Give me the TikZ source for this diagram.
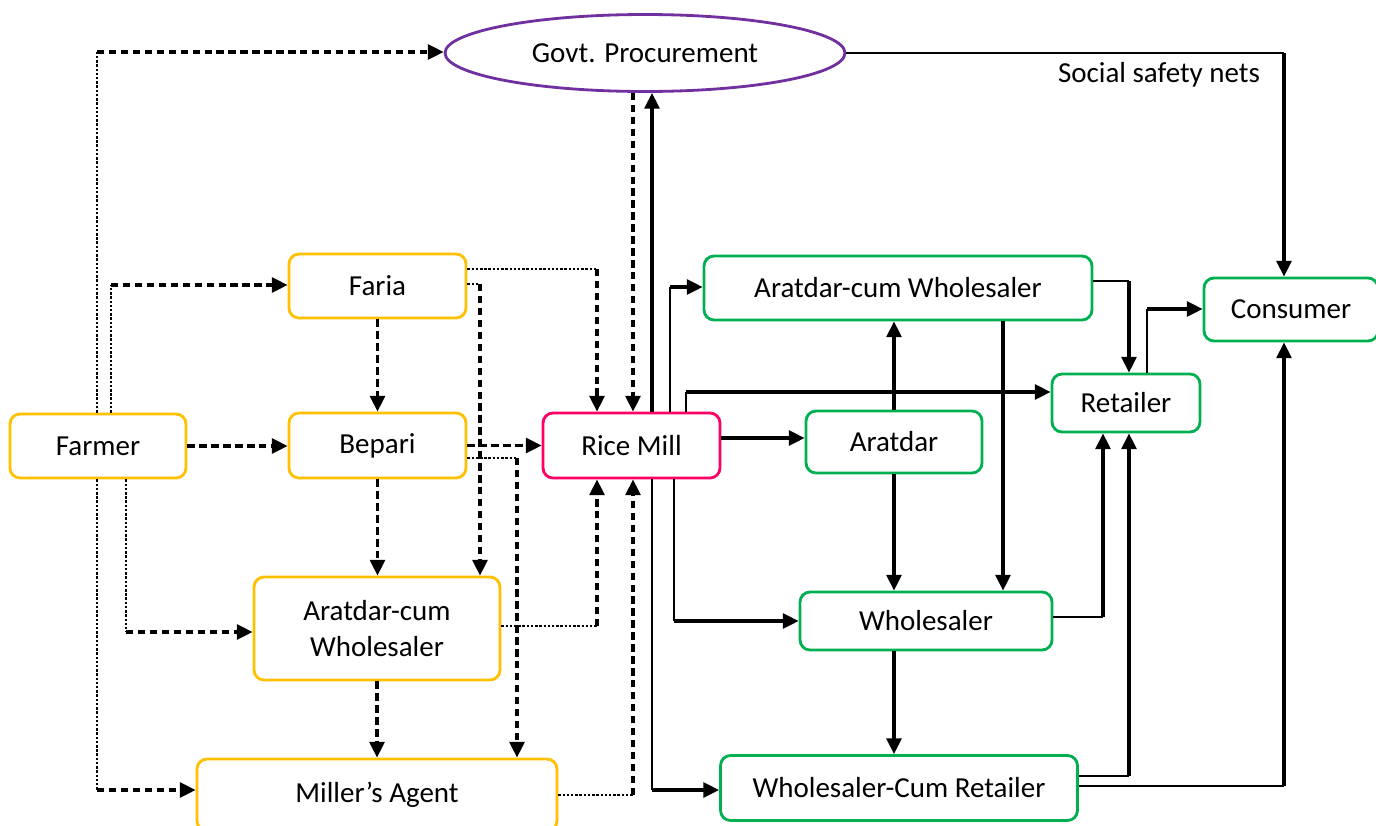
\documentclass[tikz,border=0pt]{standalone}
\usepackage{fontspec}
\setmainfont{Carlito}
\usepackage{xcolor}
\usepackage{tikz}
\usetikzlibrary{arrows.meta, positioning, shapes.geometric}

\definecolor{ygold}{HTML}{FFC000}
\definecolor{gpurple}{HTML}{7030A0}
\definecolor{mpink}{HTML}{FF0066}
\definecolor{rgreen}{HTML}{00B050}
\newcommand{\diagfont}{\fontsize{16.5}{20.5}\selectfont}

\begin{document}
\begin{tikzpicture}[x=0.02cm, y=-0.02cm,
    box/.style={draw, line width=1.6pt, rounded corners=0.2cm, fill=white, align=center, inner sep=0pt, font=\diagfont},
    ybox/.style={box, draw=ygold},
    gbox/.style={box, draw=rgreen},
    rbox/.style={box, draw=mpink},
    arr/.style={-{Triangle[length=9pt, width=8.5pt]}},
    thk/.style={line width=1.8pt},
    thn/.style={line width=0.9pt},
    dsh/.style={line width=1.8pt, dash pattern=on 4.2pt off 2.6pt},
    dot/.style={line width=0.9pt, dash pattern=on 1.4pt off 1pt}
]
\useasboundingbox (0,0) rectangle (1376,825);

% Govt
\node[ellipse, draw=gpurple, line width=1.6pt, minimum width=8cm, minimum height=1.54cm, inner sep=0pt, font=\diagfont] (govt) at (645,53) {Govt. Procurement};
\node[font=\diagfont] (safety) at (1159,75) {Social safety nets};

% Yellow side
\node[ybox, minimum width=3.52cm, minimum height=1.28cm] (farmer) at (98,446) {Farmer};
\node[ybox, minimum width=3.54cm, minimum height=1.28cm] (faria) at (377.5,286) {Faria};
\node[ybox, minimum width=3.54cm, minimum height=1.30cm] (bepari) at (377.5,445.5) {Bepari};
\node[ybox, minimum width=4.92cm, minimum height=2.06cm] (yacw) at (377,628.5) {Aratdar-cum\\Wholesaler};
\node[ybox, minimum width=7.2cm, minimum height=1.44cm] (agent) at (377,795) {Miller’s Agent};

% Rice Mill
\node[rbox, minimum width=3.54cm, minimum height=1.30cm] (rice) at (631.5,445.5) {Rice Mill};

% Green side
\node[gbox, minimum width=7.76cm, minimum height=1.28cm] (gacw) at (898,288) {Aratdar-cum Wholesaler};
\node[gbox, minimum width=3.48cm, minimum height=1.26cm] (cons) at (1291,309.5) {Consumer};
\node[gbox, minimum width=2.96cm, minimum height=1.16cm] (retail) at (1126,403) {Retailer};
\node[gbox, minimum width=3.52cm, minimum height=1.24cm] (aratdar) at (894,442) {Aratdar};
\node[gbox, minimum width=5.04cm, minimum height=1.16cm] (whole) at (926,621) {Wholesaler};
\node[gbox, minimum width=7.14cm, minimum height=1.30cm] (wcr) at (899,788) {Wholesaler-Cum Retailer};

% Farmer flows
\coordinate (c1) at (97,52);
\draw[dot] (farmer.north -| c1) -- (c1);
\draw[dsh, arr] (c1) -- (govt.west |- c1);
\coordinate (c2) at (111,285);
\draw[dot] (farmer.north -| c2) -- (c2);
\draw[dsh, arr] (c2) -- (faria.west |- c2);
\draw[dsh, arr] (farmer.east) -- (bepari.west |- farmer.east);
\coordinate (c3) at (126,632);
\draw[dot] (farmer.south -| c3) -- (c3);
\draw[dsh, arr] (c3) -- (yacw.west |- c3);
\coordinate (c4) at (97,790);
\draw[dot] (farmer.south -| c4) -- (c4);
\draw[dsh, arr] (c4) -- (agent.west |- c4);

% Faria flows
\draw[dsh, arr] (faria.south) -- (bepari.north);
\coordinate (c5) at (597,269);
\draw[dot] (faria.east |- c5) -- (c5);
\draw[dsh, arr] (c5) -- (rice.north -| c5);
\coordinate (c6) at (480,284);
\draw[dot] (faria.east |- c6) -- (c6);
\draw[dsh, arr] (c6) -- (yacw.north -| c6);

% Bepari flows
\draw[dsh, arr] (bepari.east) -- (rice.west);
\coordinate (c8) at (517,458);
\draw[dot] (bepari.east |- c8) -- (c8);
\draw[dsh, arr] (c8) -- (agent.north -| c8);
\draw[dsh, arr] (bepari.south) -- (yacw.north -| bepari.south);

% Aratdar-cum Wholesaler (yellow) flows
\coordinate (c9) at (597,626);
\draw[dot] (yacw.east |- c9) -- (c9);
\draw[dsh, arr] (c9) -- (rice.south -| c9);
\draw[dsh, arr] (yacw.south) -- (agent.north -| yacw.south);

% Miller's agent flows
\coordinate (c10) at (633,795);
\draw[dot] (agent.east |- c10) -- (c10);
\draw[dsh, arr] (c10) -- (rice.south -| c10);

% Govt and Rice Mill
\coordinate (c11) at (633,200);
\draw[dsh, arr] (govt.south -| c11) -- (rice.north -| c11);
\coordinate (c12) at (652,200);
\draw[thk, arr] (rice.north -| c12) -- (govt.south -| c12);
\coordinate (c24) at (1284,53);
\draw[thn] (govt.east) -- (c24);
\draw[thk, arr] (c24) -- (cons.north -| c24);

% Rice Mill outflows
\coordinate (c13) at (670,287);
\draw[thn] (rice.north -| c13) -- (c13);
\draw[thk, arr] (c13) -- (gacw.west |- c13);
\coordinate (c14) at (686,392);
\draw[thn] (rice.north -| c14) -- (c14);
\draw[thk, arr] (c14) -- (retail.west |- c14);
\coordinate (c15) at (720,438);
\draw[thk, arr] (rice.east |- c15) -- (aratdar.west |- c15);
\coordinate (c16) at (674,621);
\draw[thn] (rice.south -| c16) -- (c16);
\draw[thk, arr] (c16) -- (whole.west |- c16);
\coordinate (c17) at (652,790);
\draw[thn] (rice.south -| c17) -- (c17);
\draw[thk, arr] (c17) -- (wcr.west |- c17);

% Aratdar flows
\draw[thk, arr] (aratdar.north) -- (gacw.south -| aratdar.north);
\draw[thk, arr] (aratdar.south) -- (whole.north -| aratdar.south);

% Aratdar-cum Wholesaler (green) flows
\coordinate (c18) at (1003,400);
\draw[thk, arr] (gacw.south -| c18) -- (whole.north -| c18);
\coordinate (c19) at (1129,281);
\draw[thn] (gacw.east |- c19) -- (c19);
\draw[thk, arr] (c19) -- (retail.north -| c19);

% Retailer to Consumer
\coordinate (c20) at (1147,309);
\draw[thn] (retail.north -| c20) -- (c20);
\draw[thk, arr] (c20) -- (cons.west |- c20);

% Wholesaler flows
\coordinate (c21) at (1103,617);
\draw[thn] (whole.east |- c21) -- (c21);
\draw[thk, arr] (c21) -- (retail.south -| c21);
\draw[thk, arr] (whole.south -| aratdar.south) -- (wcr.north -| aratdar.south);

% Wholesaler-Cum Retailer flows
\coordinate (c22) at (1129,776);
\draw[thn] (wcr.east |- c22) -- (c22);
\draw[thk, arr] (c22) -- (retail.south -| c22);
\coordinate (c23) at (1284,786);
\draw[thn] (wcr.east |- c23) -- (c23);
\draw[thk, arr] (c23) -- (cons.south -| c23);

\end{tikzpicture}
\end{document}
